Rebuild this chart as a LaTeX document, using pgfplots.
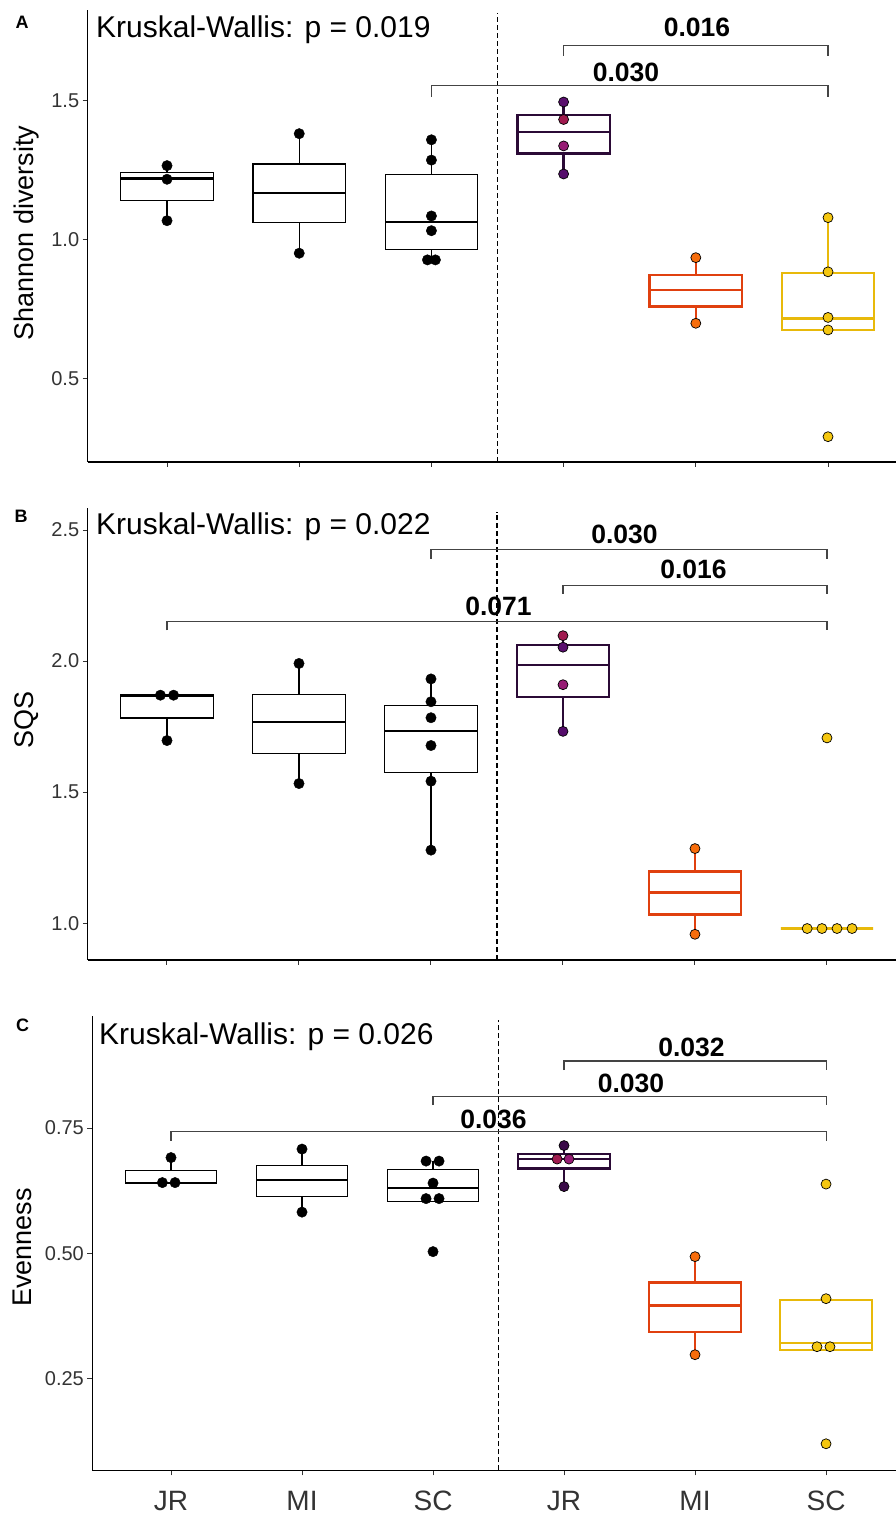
\documentclass[border=0pt]{standalone}
\usepackage{pgfplots}
\pgfplotsset{compat=1.18}
\usepgfplotslibrary{statistics}
\usepackage{fontspec}
\setmainfont{Liberation Sans}
\definecolor{jrbox}{HTML}{2B0A36}
\definecolor{jrpa}{HTML}{5A0F6E}
\definecolor{jrpb}{HTML}{550C6B}
\definecolor{jrcr}{HTML}{A01A4F}
\definecolor{jrmg}{HTML}{961C74}
\definecolor{jrdk}{HTML}{3A0A48}
\definecolor{mibox}{HTML}{E0400F}
\definecolor{mipt}{HTML}{F76D0C}
\definecolor{scbox}{HTML}{E8B90A}
\definecolor{scpt}{HTML}{F5C710}
\definecolor{labgray}{HTML}{333333}
\definecolor{brk}{HTML}{444444}
\newcommand\fs[1]{\fontsize{#1}{#1}\selectfont}
\pgfplotsset{
  panel/.style={scale only axis, anchor=south west,
    axis lines*=left, axis line style={line width=1.2pt, black, -},
    tick align=outside, major tick length=5pt,
    tick style={line width=1pt, color=labgray},
    xtick={1,2,3,4,5,6},
    ticklabel style={font=\fs{20}, text=labgray},
    xticklabel style={font=\fs{28}, text=labgray, yshift=-12pt},
    clip=false,
    boxplot/draw direction=y,
    boxplot/whisker extend=0,
    boxplot/box extend=0.7,
  },
  bbox/.style={draw=black, line width=1.1pt, boxplot/every median/.style={line width=2.2pt}},
  cbox/.style={draw=#1, line width=2.4pt, boxplot/every median/.style={line width=2.4pt}},
  bpts/.style={only marks, mark=*, mark size=5.2pt, mark options={fill=black, draw=black, line width=0.4pt}},
  cpts/.style={only marks, mark=*, mark size=5pt, mark options={fill=#1, draw=black, line width=0.7pt}},
  brack/.style={draw=brk, line width=1.1pt, sharp plot, mark=none},
  vdash/.style={draw=black, line width=1.1pt, dash pattern=on 5pt off 3pt, mark=none},
}
\begin{document}
\begin{tikzpicture}[x=1pt,y=1pt]
\path[use as bounding box] (0,0) rectangle (896,1517);

% ---------------- Panel A ----------------
\begin{axis}[panel, at={(87.7pt,1055pt)}, width=808.4pt, height=452pt,
  xmin=0.4, xmax=6.515, ymin=0.201, ymax=1.827,
  ytick={0.5,1.0,1.5}, yticklabels={0.5,1.0,1.5}, xticklabels={}]
\addplot[vdash] coordinates {(3.5,0.201) (3.5,1.817)};
\addplot[bbox, boxplot prepared={draw position=1, lower whisker=1.069, lower quartile=1.143, median=1.221, upper quartile=1.243, upper whisker=1.267}] coordinates {};
\addplot[bbox, boxplot prepared={draw position=2, lower whisker=0.952, lower quartile=1.061, median=1.168, upper quartile=1.273, upper whisker=1.382}] coordinates {};
\addplot[bbox, boxplot prepared={draw position=3, lower whisker=0.928, lower quartile=0.966, median=1.064, upper quartile=1.236, upper whisker=1.360}] coordinates {};
\addplot[cbox=jrbox, boxplot prepared={draw position=4, lower whisker=1.237, lower quartile=1.311, median=1.387, upper quartile=1.450, upper whisker=1.496}] coordinates {};
\addplot[cbox=mibox, boxplot prepared={draw position=5, lower whisker=0.700, lower quartile=0.760, median=0.819, upper quartile=0.874, upper whisker=0.936}] coordinates {};
\addplot[cbox=scbox, boxplot prepared={draw position=6, lower whisker=0.676, lower quartile=0.676, median=0.717, upper quartile=0.881, upper whisker=1.080}] coordinates {};
\addplot[bpts] coordinates {(1,1.267) (1,1.218) (1,1.069) (2,1.382) (2,0.952) (3,1.360) (3,1.287) (3,1.086) (3,1.033) (2.97,0.928) (3.03,0.928)};
\addplot[cpts=jrpa] coordinates {(4,1.496)};
\addplot[cpts=jrcr] coordinates {(4,1.433)};
\addplot[cpts=jrmg] coordinates {(4,1.338)};
\addplot[cpts=jrpb] coordinates {(4,1.237)};
\addplot[cpts=mipt] coordinates {(5,0.936) (5,0.700)};
\addplot[cpts=scpt] coordinates {(6,1.080) (6,0.885) (6,0.721) (6,0.676) (6,0.292)};
\addplot[brack] coordinates {(4,1.662) (4,1.698) (6,1.698) (6,1.662)};
\addplot[brack] coordinates {(3,1.515) (3,1.554) (6,1.554) (6,1.515)};
\end{axis}

% ---------------- Panel B ----------------
\begin{axis}[panel, at={(87.8pt,557pt)}, width=808.2pt, height=452pt,
  xmin=0.4, xmax=6.523, ymin=0.86, ymax=2.584,
  ytick={1.0,1.5,2.0,2.5}, yticklabels={1.0,1.5,2.0,2.5}, xticklabels={}]
\addplot[vdash] coordinates {(3.5,0.86) (3.5,2.57)};
\addplot[bbox, boxplot prepared={draw position=1, lower whisker=1.697, lower quartile=1.783, median=1.866, upper quartile=1.873, upper whisker=1.875}] coordinates {};
\addplot[bbox, boxplot prepared={draw position=2, lower whisker=1.533, lower quartile=1.648, median=1.767, upper quartile=1.873, upper whisker=1.991}] coordinates {};
\addplot[bbox, boxplot prepared={draw position=3, lower whisker=1.279, lower quartile=1.576, median=1.733, upper quartile=1.829, upper whisker=1.932}] coordinates {};
\addplot[cbox=jrbox, boxplot prepared={draw position=4, lower whisker=1.732, lower quartile=1.864, median=1.984, upper quartile=2.062, upper whisker=2.097}] coordinates {};
\addplot[cbox=mibox, boxplot prepared={draw position=5, lower whisker=0.958, lower quartile=1.033, median=1.118, upper quartile=1.198, upper whisker=1.285}] coordinates {};
\addplot[cbox=scbox, boxplot prepared={draw position=6, lower whisker=0.98, lower quartile=0.98, median=0.98, upper quartile=0.98, upper whisker=0.98}] coordinates {};
\addplot[bpts] coordinates {(0.95,1.870) (1.05,1.870) (1,1.697) (2,1.991) (2,1.533) (3,1.932) (3,1.845) (3,1.784) (3,1.678) (3,1.542) (3,1.279)};
\addplot[cpts=jrcr] coordinates {(4,2.097)};
\addplot[cpts=jrpa] coordinates {(4,2.053)};
\addplot[cpts=jrmg] coordinates {(4,1.910)};
\addplot[cpts=jrpb] coordinates {(4,1.732)};
\addplot[cpts=mipt] coordinates {(5,1.285) (5,0.958)};
\addplot[cpts=scpt] coordinates {(5.85,0.98) (5.962,0.98) (6.076,0.98) (6.19,0.98) (6,1.707)};
\addplot[brack] coordinates {(3,2.39) (3,2.425) (6,2.425) (6,2.39)};
\addplot[brack] coordinates {(4,2.257) (4,2.289) (6,2.289) (6,2.257)};
\addplot[brack] coordinates {(1,2.117) (1,2.151) (6,2.151) (6,2.117)};
\end{axis}

% ---------------- Panel C ----------------
\begin{axis}[panel, at={(92.4pt,46.7pt)}, width=803.6pt, height=454.3pt,
  xmin=0.4, xmax=6.534, ymin=0.066, ymax=0.974,
  ytick={0.25,0.5,0.75}, yticklabels={0.25,0.50,0.75},
  xticklabels={JR,MI,SC,JR,MI,SC}]
\addplot[vdash] coordinates {(3.5,0.066) (3.5,0.966)};
\addplot[bbox, boxplot prepared={draw position=1, lower whisker=0.640, lower quartile=0.640, median=0.641, upper quartile=0.666, upper whisker=0.691}] coordinates {};
\addplot[bbox, boxplot prepared={draw position=2, lower whisker=0.582, lower quartile=0.614, median=0.646, upper quartile=0.675, upper whisker=0.708}] coordinates {};
\addplot[bbox, boxplot prepared={draw position=3, lower whisker=0.604, lower quartile=0.604, median=0.630, upper quartile=0.668, upper whisker=0.684}] coordinates {};
\addplot[cbox=jrbox, boxplot prepared={draw position=4, lower whisker=0.633, lower quartile=0.669, median=0.688, upper quartile=0.698, upper whisker=0.715}] coordinates {};
\addplot[cbox=mibox, boxplot prepared={draw position=5, lower whisker=0.297, lower quartile=0.343, median=0.395, upper quartile=0.441, upper whisker=0.493}] coordinates {};
\addplot[cbox=scbox, boxplot prepared={draw position=6, lower whisker=0.307, lower quartile=0.307, median=0.320, upper quartile=0.406, upper whisker=0.409}] coordinates {};
\addplot[bpts] coordinates {(1,0.691) (0.934,0.641) (1.031,0.641) (2,0.708) (2,0.582) (2.947,0.684) (3.046,0.684) (3,0.640) (2.947,0.609) (3.046,0.609) (3,0.503)};
\addplot[cpts=jrdk] coordinates {(4,0.715) (4,0.633)};
\addplot[cpts=jrcr] coordinates {(3.947,0.688)};
\addplot[cpts=jrmg] coordinates {(4.038,0.688)};
\addplot[cpts=mipt] coordinates {(5,0.493) (5,0.297)};
\addplot[cpts=scpt] coordinates {(6,0.638) (6,0.409) (5.931,0.313) (6.03,0.313) (6,0.119)};
\addplot[brack] coordinates {(4,0.866) (4,0.884) (6,0.884) (6,0.866)};
\addplot[brack] coordinates {(3,0.796) (3,0.813) (6,0.813) (6,0.796)};
\addplot[brack] coordinates {(1,0.725) (1,0.743) (6,0.743) (6,0.725)};
\end{axis}

% ---------------- Text annotations ----------------
\node[font=\fs{18}\bfseries, inner sep=0] at (22,1494.5) {A};
\node[font=\fs{18}\bfseries, inner sep=0] at (21,1001) {B};
\node[font=\fs{18}\bfseries, inner sep=0] at (22.5,492) {C};
\node[font=\fs{30}, anchor=base west, inner sep=0] at (96,1479) {Kruskal-Wallis: p = 0.019};
\node[font=\fs{30}, anchor=base west, inner sep=0] at (96,982) {Kruskal-Wallis: p = 0.022};
\node[font=\fs{30}, anchor=base west, inner sep=0] at (99,472) {Kruskal-Wallis: p = 0.026};
\node[font=\fs{27}, rotate=90, anchor=base, inner sep=0] at (33,1284) {Shannon diversity};
\node[font=\fs{27}, rotate=90, anchor=base, inner sep=0] at (33,797) {SQS};
\node[font=\fs{27}, rotate=90, anchor=base, inner sep=0] at (32,269.5) {Evenness};
\node[font=\fs{26.5}\bfseries, inner sep=0] at (697,1490) {0.016};
\node[font=\fs{26.5}\bfseries, inner sep=0] at (626,1445) {0.030};
\node[font=\fs{26.5}\bfseries, inner sep=0] at (624.5,983) {0.030};
\node[font=\fs{26.5}\bfseries, inner sep=0] at (693.5,948) {0.016};
\node[font=\fs{26.5}\bfseries, inner sep=0] at (498.5,910.5) {0.071};
\node[font=\fs{26.5}\bfseries, inner sep=0] at (691.5,469.5) {0.032};
\node[font=\fs{26.5}\bfseries, inner sep=0] at (631,434) {0.030};
\node[font=\fs{26.5}\bfseries, inner sep=0] at (493.5,398) {0.036};
\end{tikzpicture}
\end{document}
